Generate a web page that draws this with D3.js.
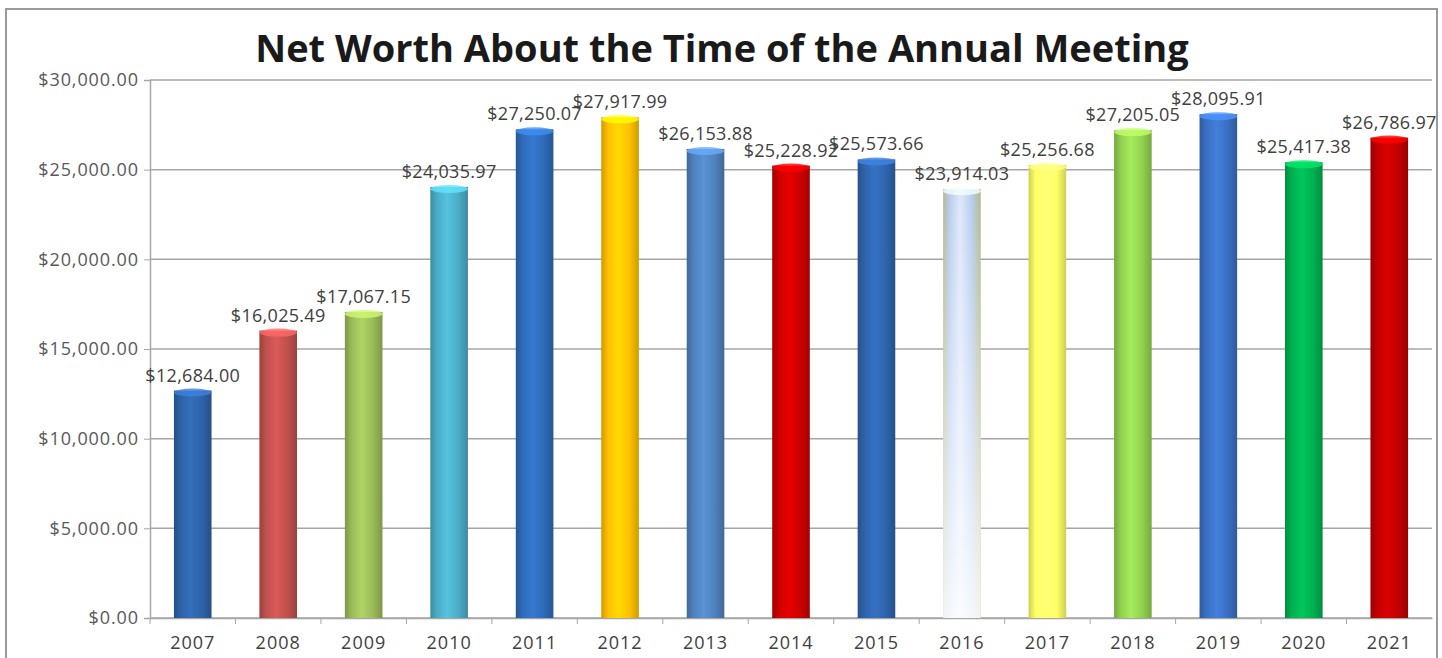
<!DOCTYPE html>
<html>
<head>
<meta charset="utf-8">
<title>Net Worth About the Time of the Annual Meeting</title>
<script src="https://cdn.jsdelivr.net/npm/d3@7"></script>
<style>
    body { margin: 0; background: #fff; }
    text { font-family: "Open Sans", "DejaVu Sans", sans-serif; }
</style>
</head>
<body>
<script>
var years = ["2007", "2008", "2009", "2010", "2011", "2012", "2013", "2014", "2015", "2016", "2017", "2018", "2019", "2020", "2021"];
var netWorth = [12684.00, 16025.49, 17067.15, 24035.97, 27250.07, 27917.99, 26153.88, 25228.92, 25573.66, 23914.03, 25256.68, 27205.05, 28095.91, 25417.38, 26786.97];
var barColors = ["#2e62a6", "#c0504d", "#9bbb59", "#4bacc6", "#2f6bb8", "#ffc000", "#4f81bd", "#cc0000", "#2f64ac", "#b8cdf0", "#ffff66", "#92d050", "#3a70c2", "#00b050", "#c00000"];
var yTicks = [0, 5000, 10000, 15000, 20000, 25000, 30000];

var W = 1442, H = 658;
var m = {left: 150, right: 10, top: 80, bottom: 40};

var svg = d3.select("body").append("svg").attr("width", W).attr("height", H);

// outer frame
svg.append("rect").attr("x", 6).attr("y", 9).attr("width", 1431).attr("height", 660)
    .attr("fill", "#fff").attr("stroke", "#9a9a9a").attr("stroke-width", 2);

var x = d3.scaleBand().domain(years).range([m.left, W - m.right]).paddingInner(0.56).paddingOuter(0.28);
var y = d3.scaleLinear().domain([0, 30000]).range([H - m.bottom, m.top]);

var defs = svg.append("defs");
barColors.forEach(function(c, i) {
    var g = defs.append("linearGradient").attr("id", "g" + i).attr("x1", "0").attr("x2", "1").attr("y1", "0").attr("y2", "0");
    var base = d3.color(c);
    var edge = i == 9 ? d3.color("#b5b890") : base.darker(0.6);
    var mid = i == 9 ? d3.color("#dfe8fa") : base.brighter(0.35);
    g.append("stop").attr("offset", "0%").attr("stop-color", edge);
    g.append("stop").attr("offset", "18%").attr("stop-color", base);
    g.append("stop").attr("offset", "45%").attr("stop-color", mid);
    g.append("stop").attr("offset", "75%").attr("stop-color", base);
    g.append("stop").attr("offset", "100%").attr("stop-color", edge);
});
// 2016 bar fades to white at the bottom
var fade = defs.append("linearGradient").attr("id", "fade").attr("x1", "0").attr("x2", "0").attr("y1", "0").attr("y2", "1");
fade.append("stop").attr("offset", "0%").attr("stop-color", "#fff").attr("stop-opacity", 0);
fade.append("stop").attr("offset", "100%").attr("stop-color", "#fff").attr("stop-opacity", 0.85);

// gridlines
svg.append("g").selectAll("line").data(yTicks).enter().append("line")
    .attr("x1", m.left).attr("x2", W - m.right)
    .attr("y1", function(d) { return y(d); }).attr("y2", function(d) { return y(d); })
    .attr("stroke", "#a6a6a6").attr("stroke-width", 1.5);

// y axis
var yAxis = svg.append("g").attr("transform", "translate(" + m.left + ",0)")
    .call(d3.axisLeft(y).tickValues(yTicks).tickSize(6).tickPadding(5)
        .tickFormat(function(d) { return "$" + d3.format(",.2f")(d); }));
yAxis.select(".domain").attr("stroke", "#a6a6a6").attr("stroke-width", 1.5);
yAxis.selectAll(".tick line").attr("stroke", "#a6a6a6");
yAxis.selectAll("text").attr("font-size", "18px").attr("letter-spacing", "0.9px").attr("fill", "#595959");

// x axis
var xAxis = svg.append("g").attr("transform", "translate(0," + y(0) + ")")
    .call(d3.axisBottom(x).tickSize(0).tickPadding(18));
xAxis.select(".domain").attr("stroke", "#a6a6a6").attr("stroke-width", 1.5);
xAxis.selectAll("text").attr("font-size", "18px").attr("letter-spacing", "1px").attr("fill", "#404040");
var step = x.step();
svg.append("g").selectAll("line").data(years).enter().append("line")
    .attr("x1", function(d) { return x(d) - (step - x.bandwidth()) / 2; })
    .attr("x2", function(d) { return x(d) - (step - x.bandwidth()) / 2; })
    .attr("y1", y(0)).attr("y2", y(0) + 6)
    .attr("stroke", "#a6a6a6");

// bars
var bars = svg.append("g").selectAll("g").data(netWorth).enter().append("g");
bars.append("rect")
    .attr("x", function(d, i) { return x(years[i]); })
    .attr("y", function(d) { return y(d); })
    .attr("width", x.bandwidth())
    .attr("height", function(d) { return y(0) - y(d); })
    .attr("fill", function(d, i) { return "url(#g" + i + ")"; });
bars.filter(function(d, i) { return i == 9; }).append("rect")
    .attr("x", function(d) { return x(years[9]); })
    .attr("y", function(d) { return y(d); })
    .attr("width", x.bandwidth())
    .attr("height", function(d) { return y(0) - y(d); })
    .attr("fill", "url(#fade)");
// lighter top cap
bars.append("ellipse")
    .attr("cx", function(d, i) { return x(years[i]) + x.bandwidth() / 2; })
    .attr("cy", function(d) { return y(d) + 2; })
    .attr("rx", x.bandwidth() / 2).attr("ry", 4)
    .attr("fill", function(d, i) { return d3.color(barColors[i]).brighter(0.8); })
    .attr("opacity", 0.8);

// value labels
svg.append("g").selectAll("text").data(netWorth).enter().append("text")
    .attr("x", function(d, i) { return x(years[i]) + x.bandwidth() / 2; })
    .attr("y", function(d) { return y(d) - 9; })
    .attr("text-anchor", "middle")
    .attr("font-size", "18px")
    .attr("letter-spacing", "0.3px")
    .attr("fill", "#404040")
    .text(function(d) { return "$" + d3.format(",.2f")(d); });

// title
svg.append("text").attr("x", 722).attr("y", 62).attr("text-anchor", "middle")
    .attr("font-size", "38px").attr("font-weight", "bold").attr("fill", "#1a1a1a")
    .text("Net Worth About the Time of the Annual Meeting");
</script>
</body>
</html>
